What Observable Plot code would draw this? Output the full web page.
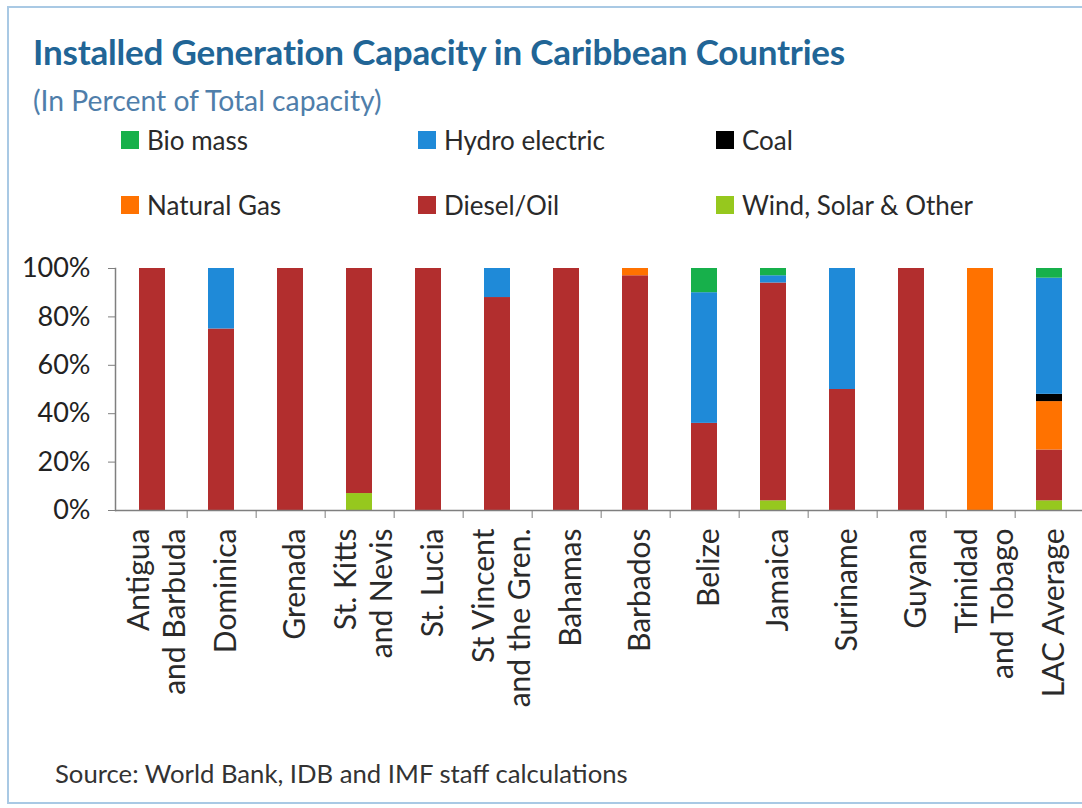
<!DOCTYPE html>
<html>
<head>
<meta charset="utf-8">
<script src="https://cdn.jsdelivr.net/npm/d3@7"></script>
<script src="https://cdn.jsdelivr.net/npm/@observablehq/plot@0.6"></script>
<style>
  body { margin: 0; background: #fff; font-family: Lato, "Open Sans", sans-serif; }
  #wrap { position: relative; width: 1082px; height: 808px; overflow: hidden; background: #fff; }
  #frame { position: absolute; left: 7px; top: 6px; width: 1100px; height: 798px; border: 2px solid #a9c9e4; box-sizing: border-box; }
  #title { position: absolute; left: 33px; top: 30px; font-weight: 700; font-size: 35px; color: #216596; white-space: nowrap; letter-spacing: -0.2px; }
  #subtitle { position: absolute; left: 33px; top: 83px; font-size: 28.3px; color: #4f7eaa; white-space: nowrap; }
  .item { position: absolute; display: flex; align-items: center; font-size: 26px; color: #2a2a2a; white-space: nowrap; }
  .sw { width: 18px; height: 18px; margin-right: 8px; }
  #source { position: absolute; left: 55px; top: 758px; font-size: 25.7px; color: #333; white-space: nowrap; }
  #chart { position: absolute; left: 0; top: 230px; }
</style>
</head>
<body>
<div id="wrap">
  <div id="frame"></div>
  <div id="title">Installed Generation Capacity in Caribbean Countries</div>
  <div id="subtitle">(In Percent of Total capacity)</div>
  <div id="legend"></div>
  <div id="chart"></div>
  <div id="source">Source: World Bank, IDB and IMF staff calculations</div>
</div>
<script>
// ---- data ----
const categories = ["Antigua and Barbuda", "Dominica", "Grenada", "St. Kitts and Nevis", "St. Lucia",
  "St Vincent and the Gren.", "Bahamas", "Barbados", "Belize", "Jamaica", "Suriname", "Guyana",
  "Trinidad and Tobago", "LAC Average"];
const tickLabels = ["Antigua\nand Barbuda", "Dominica", "Grenada", "St. Kitts\nand Nevis", "St. Lucia",
  "St Vincent\nand the Gren.", "Bahamas", "Barbados", "Belize", "Jamaica", "Suriname", "Guyana",
  "Trinidad\nand Tobago", "LAC Average"];
// stacking order, bottom to top
const sources = ["Wind, Solar & Other", "Diesel/Oil", "Natural Gas", "Coal", "Hydro electric", "Bio mass"];
const windSolarOther = [0, 0, 0, 7, 0, 0, 0, 0, 0, 4, 0, 0, 0, 4];
const dieselOil      = [100, 75, 100, 93, 100, 88, 100, 97, 36, 90, 50, 100, 0, 21];
const naturalGas     = [0, 0, 0, 0, 0, 0, 0, 3, 0, 0, 0, 0, 100, 20];
const coal           = [0, 0, 0, 0, 0, 0, 0, 0, 0, 0, 0, 0, 0, 3];
const hydroElectric  = [0, 25, 0, 0, 0, 12, 0, 0, 54, 3, 50, 0, 0, 48];
const bioMass        = [0, 0, 0, 0, 0, 0, 0, 0, 10, 3, 0, 0, 0, 4];
const yTicks = [0, 20, 40, 60, 80, 100];
// legend layout order (row by row)
const legendOrder = ["Bio mass", "Hydro electric", "Coal", "Natural Gas", "Diesel/Oil", "Wind, Solar & Other"];

// ---- styles ----
const colors = {
  "Wind, Solar & Other": "#96c81e",
  "Diesel/Oil": "#b22e2e",
  "Natural Gas": "#ff7200",
  "Coal": "#000000",
  "Hydro electric": "#1f8ad8",
  "Bio mass": "#17b04b"
};

const seriesValues = [windSolarOther, dieselOil, naturalGas, coal, hydroElectric, bioMass];
const table = [];
sources.forEach((s, i) => {
  categories.forEach((c, j) => {
    if (seriesValues[i][j] > 0) table.push({country: c, source: s, value: seriesValues[i][j]});
  });
});
const labelOf = new Map(categories.map((c, i) => [c, tickLabels[i]]));

// legend
const legend = document.getElementById("legend");
const legPos = [[121, 124], [418, 124], [716, 124], [121, 189], [418, 189], [716, 189]];
legendOrder.forEach((s, i) => {
  const el = document.createElement("div");
  el.className = "item";
  el.style.left = legPos[i][0] + "px";
  el.style.top = legPos[i][1] + "px";
  el.innerHTML = `<span class="sw" style="background:${colors[s]}"></span><span>${s}</span>`;
  legend.appendChild(el);
});

// chart
const xRange = [115, 1086];
const padIn = 0.625, padOut = 0.317;
const step = d3.scaleBand(categories, xRange).paddingInner(padIn).paddingOuter(padOut).step();

const chart = Plot.plot({
  width: 1082,
  height: 520,
  marginTop: 38,
  marginBottom: 240,
  marginLeft: 115,
  marginRight: 0,
  style: {fontFamily: "Lato, 'Open Sans', sans-serif", background: "transparent", overflow: "visible"},
  x: {domain: categories, range: xRange, paddingInner: padIn, paddingOuter: padOut, axis: null},
  y: {domain: [0, 100], axis: null},
  color: {domain: sources, range: sources.map(s => colors[s])},
  marks: [
    Plot.barY(table, {x: "country", y: "value", fill: "source"}),
    Plot.ruleY([0], {stroke: "#7f7f7f", strokeWidth: 1.5}),
    Plot.frame({anchor: "left", stroke: "#7f7f7f", strokeWidth: 1.5}),
    Plot.axisY({ticks: yTicks, tickFormat: d => d + "%", tickSize: 7, tickPadding: 18, fontSize: 27, color: "#222", stroke: "#7f7f7f", label: null}),
    Plot.axisX({tickSize: 8, tickFormat: () => "", dx: step / 2, stroke: "#7f7f7f", label: null}),
    Plot.axisX({tickSize: 0, tickPadding: 18, tickRotate: -90, tickFormat: d => labelOf.get(d), fontSize: 30, fill: "#2a2a2a", lineHeight: 1.18, dx: 3, label: null})
  ]
});
document.getElementById("chart").appendChild(chart);
</script>
</body>
</html>
